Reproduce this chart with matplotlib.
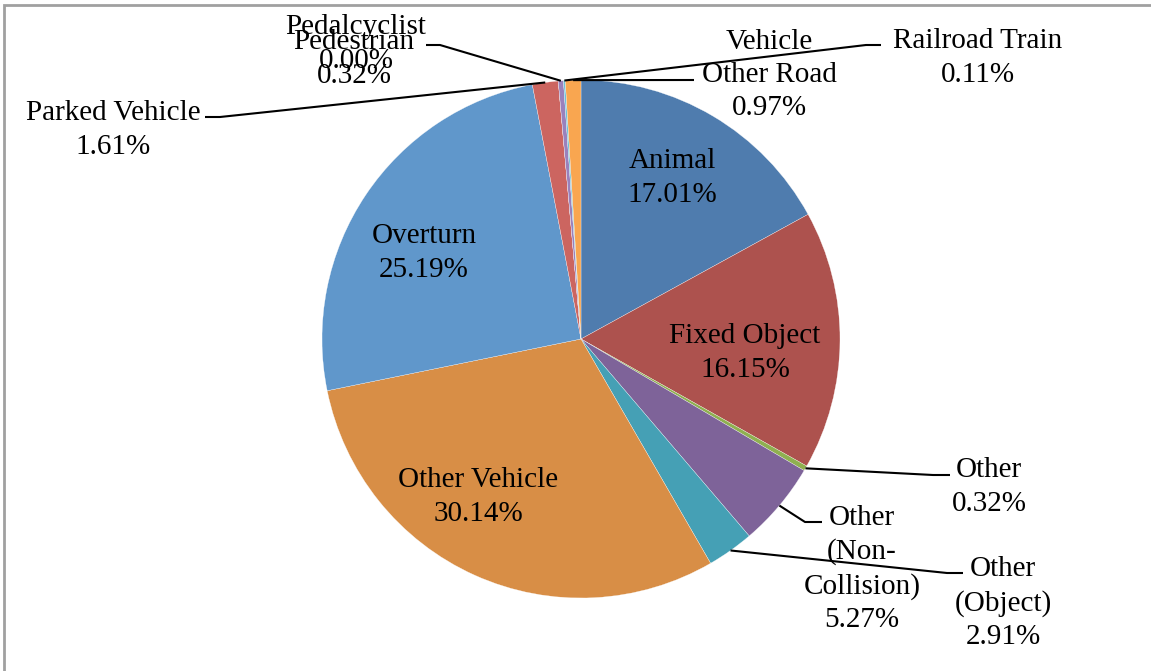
import numpy as np
import matplotlib
matplotlib.use('Agg')
import matplotlib.pyplot as plt
from matplotlib.patches import Rectangle

# data (clockwise from 12 o'clock)
categories = ['Animal', 'Fixed Object', 'Other', 'Other (Non-Collision)', 'Other (Object)',
              'Other Vehicle', 'Overturn', 'Parked Vehicle', 'Pedalcyclist', 'Pedestrian',
              'Railroad Train', 'Vehicle Other Road']
shares = [17.01, 16.15, 0.32, 5.27, 2.91, 30.14, 25.19, 1.61, 0.00, 0.32, 0.11, 0.97]
label_text = ['Animal', 'Fixed Object', 'Other', 'Other\n(Non-\nCollision)', 'Other\n(Object)',
              'Other Vehicle', 'Overturn', 'Parked Vehicle', 'Pedalcyclist', 'Pedestrian',
              'Railroad Train', 'Vehicle\nOther Road']
colors = ['#4F7CAE', '#AD524E', '#8FB050', '#7E6399', '#45A0B5', '#D88E46',
          '#6097CB', '#CC6560', '#C0C0C0', '#9A81BC', '#6CC2DA', '#F9A650']

W, H = 1151, 671
CX, CY, R = 581, 339, 259


def Y(y):
    # pixel row -> data y
    return H - y


fig = plt.figure(figsize=(W / 100, H / 100), dpi=100)
ax = fig.add_axes([0, 0, 1, 1])
ax.set_xlim(0, W)
ax.set_ylim(0, H)
ax.set_aspect('equal')
ax.axis('off')

ax.add_patch(Rectangle((4.5, -10), W + 20, Y(4.5) + 10, fill=False,
                       edgecolor='#A0A0A0', linewidth=2))

wedges, _ = ax.pie(shares, colors=colors, startangle=90, counterclock=False,
                   center=(CX, Y(CY)), radius=R,
                   wedgeprops=dict(edgecolor='white', linewidth=0.2))
ax.set_xlim(0, W)
ax.set_ylim(0, H)

# label positions (pixel coords, centre of text block)
label_pos = {
    'Animal': (672, 178), 'Fixed Object': (745, 353), 'Other': (989, 487),
    'Other (Non-Collision)': (862, 569), 'Other (Object)': (1003, 603),
    'Other Vehicle': (478, 497), 'Overturn': (424, 253), 'Parked Vehicle': (113, 130),
    'Pedalcyclist': (356, 44), 'Pedestrian': (354, 59), 'Railroad Train': (978, 58),
    'Vehicle Other Road': (769, 75),
}
# leader line elbows (pixel coords), from label side toward wedge
leaders = {
    'Other': [(950, 475), (933, 475)],
    'Other (Non-Collision)': [(822, 522), (805, 522)],
    'Other (Object)': [(963, 573), (947, 573)],
    'Parked Vehicle': [(205, 117), (220, 117)],
    'Pedestrian': [(426, 45), (440, 45)],
    'Railroad Train': [(881, 45), (866, 45)],
    'Vehicle Other Road': [(694, 80)],
}

font = dict(family=['Liberation Serif', 'DejaVu Serif'], size=21, color='black',
            ha='center', va='center', linespacing=1.36)

cum = np.cumsum([0] + shares)
for i, name in enumerate(categories):
    mid = (cum[i] + cum[i + 1]) / 2 / 100 * 360
    ex = CX + R * np.sin(np.radians(mid))
    ey = CY - R * np.cos(np.radians(mid))
    if name in leaders:
        pts = leaders[name] + [(ex, ey)]
        ax.plot([p[0] for p in pts], [Y(p[1]) for p in pts], color='black',
                linewidth=1.5, solid_capstyle='butt')
    x, y = label_pos[name]
    ax.text(x, Y(y), f'{label_text[i]}\n{shares[i]:.2f}%', **font)

fig.savefig('out.png', dpi=100)
